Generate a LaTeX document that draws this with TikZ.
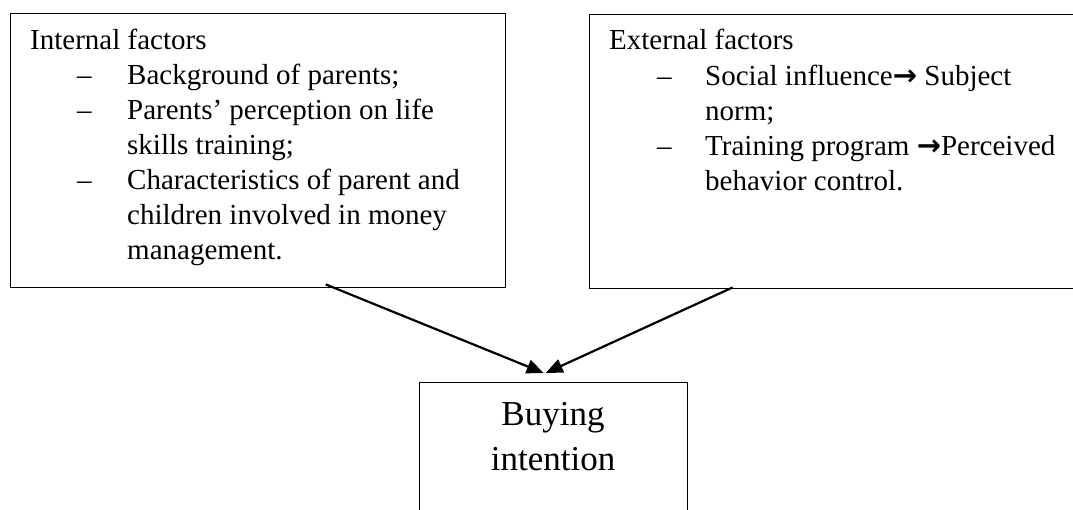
\documentclass[tikz,border=0pt]{standalone}
\usepackage{fontspec}
\setmainfont{Liberation Serif}
\newfontfamily\arrowfont{DejaVu Sans}
\usetikzlibrary{arrows.meta}
\newcommand{\warr}{{\arrowfont\bfseries →}}
\begin{document}
\begin{tikzpicture}[x=1pt,y=-1pt,
  box/.style={draw,line width=1.4pt,inner sep=0pt,anchor=north west},
  txt/.style={anchor=base west,inner sep=0pt,font=\fontsize{29}{35}\selectfont},
  big/.style={anchor=base,inner sep=0pt,font=\fontsize{35}{45}\selectfont},
  conn/.style={line width=2.2pt,-{Triangle[length=17pt,width=14pt]}}]
\useasboundingbox (0,0) rectangle (1073,510);
\clip (0,0) rectangle (1073,510);
% boxes
\node[box,minimum width=495pt,minimum height=274pt] (L) at (10,13) {};
\node[box,minimum width=500pt,minimum height=274pt] (R) at (589,14) {};
\node[box,minimum width=268pt,minimum height=160pt] (B) at (419,382) {};
% left text
\node[txt] (l0) at (30,50) {Internal factors};
\node[txt] (ld1) at (77,85) {–};
\node[txt] (l1) at (127,85) {Background of parents;};
\node[txt] (ld2) at (77,120) {–};
\node[txt] (l2) at (127,120) {Parents’ perception on life};
\node[txt] (l3) at (127,155) {skills training;};
\node[txt] (ld3) at (77,190) {–};
\node[txt] (l4) at (127,190) {Characteristics of parent and};
\node[txt] (l5) at (127,225) {children involved in money};
\node[txt] (l6) at (127,260) {management.};
% right text
\node[txt] (r0) at (609,50) {External factors};
\node[txt] (rd1) at (657,86) {–};
\node[txt] (r1) at (705,86) {Social influence\warr{} Subject};
\node[txt] (r2) at (705,121) {norm;};
\node[txt] (rd2) at (657,156) {–};
\node[txt] (r3) at (705,156) {Training program \warr{}Perceived};
\node[txt] (r4) at (705,191) {behavior control.};
% bottom text
\node[big] (b1) at (553,425) {Buying};
\node[big] (b2) at (553,470) {intention};
% connectors
\draw[conn] ([xshift=67.5pt,yshift=4pt]L.south) -- ([xshift=-10pt,yshift=9pt]B.north);
\draw[conn] ([xshift=-107pt,yshift=2pt]R.south) -- ([xshift=-8pt,yshift=9pt]B.north);
\end{tikzpicture}
\end{document}
